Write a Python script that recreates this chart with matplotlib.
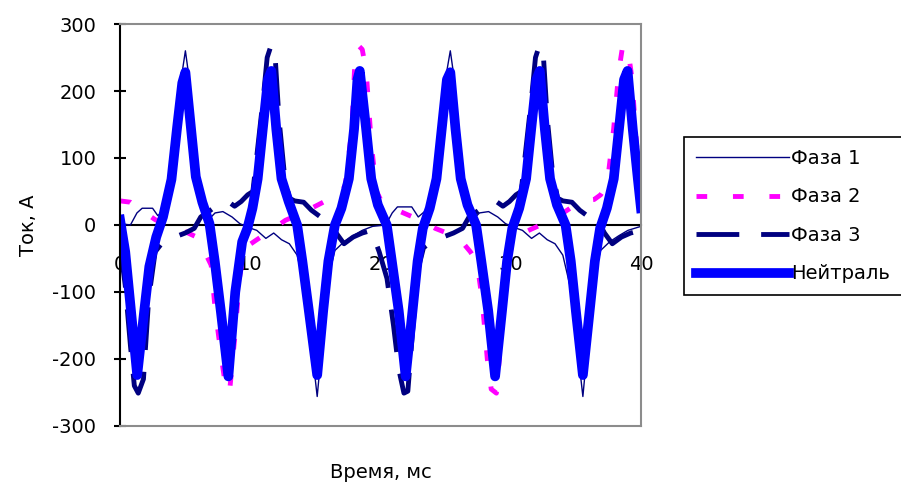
import matplotlib
matplotlib.use("Agg")
import matplotlib.pyplot as plt

t_f1 = [0.0, 0.8, 1.3, 1.7, 2.5, 2.9, 3.4, 3.9, 4.4, 4.75, 5.02, 5.3, 5.7, 6.1, 6.5,
        6.9, 7.3, 7.9, 8.6, 9.2, 9.9, 10.5, 11.2, 11.8, 12.4, 13.0, 13.6, 14.2, 14.7, 15.14,
        15.6, 16.1, 16.5, 17.2, 17.9, 18.6, 19.4, 20.4, 20.9, 21.3, 22.4, 22.9, 23.5, 24.0, 24.6,
        25.05, 25.36, 25.65, 26.0, 26.4, 26.8, 27.2, 27.6, 28.3, 29.0, 29.6, 30.3, 30.9, 31.6, 32.2,
        32.8, 33.4, 34.0, 34.6, 35.1, 35.54, 36.0, 36.5, 36.9, 37.6, 38.3, 39.0, 40.0]
i_f1 = [2, 0, 18, 25, 25, 14, 22, 60, 150, 225, 260, 220, 140, 70, 30,
        10, 18, 20, 12, 2, -4, -8, -20, -12, -22, -28, -45, -95, -180, -256,
        -160, -70, -38, -25, -16, -8, -2, 0, 18, 27, 27, 12, 22, 60, 150,
        225, 260, 220, 140, 70, 30, 10, 18, 20, 12, 2, -4, -8, -20, -12,
        -22, -28, -45, -95, -180, -256, -160, -70, -38, -25, -16, -8, -2]

t_f2 = [0.0, 0.8, 1.5, 2.7, 3.8, 5.0, 6.0, 6.5, 7.0, 7.3, 7.8, 8.1, 8.4, 8.8, 9.2,
        9.6, 10.5, 11.6, 12.7, 14.0, 15.2, 16.2, 16.9, 17.3, 17.8, 18.0, 18.3, 18.6, 18.9, 19.3,
        19.7, 20.0, 20.9, 21.4, 23.2, 24.2, 26.0, 26.9, 27.4, 27.8, 28.2, 28.5, 28.9, 29.3, 29.7,
        30.2, 31.6, 33.1, 33.8, 35.4, 36.4, 36.9, 37.4, 37.9, 38.3, 38.6, 39.0, 39.3, 39.7, 40.0]
i_f2 = [36, 34, 24, 8, -2, -10, -19, -40, -60, -125, -200, -240, -251, -170, -75,
        -34, -22, -8, 7, 18, 30, 40, 45, 60, 143, 230, 268, 262, 230, 120,
        50, 38, 36, 21, 6, -5, -19, -40, -55, -110, -200, -245, -251, -160, -65,
        -19, -6, 7, 15, 36, 38, 45, 60, 143, 230, 268, 262, 220, 110, 55]

t_f3 = [0.0, 0.4, 0.8, 1.1, 1.4, 1.8, 2.2, 2.7, 3.3, 4.2, 5.0, 5.7, 6.2, 6.8, 7.5,
        8.3, 8.8, 9.3, 9.8, 10.2, 10.6, 11.0, 11.3, 11.6, 11.9, 12.2, 12.6, 13.0, 13.4, 14.1,
        14.7, 15.4, 16.1, 16.6, 17.2, 17.9, 18.6, 19.3, 19.9, 20.5, 21.0, 21.4, 21.8, 22.1, 22.5,
        22.9, 23.3, 23.9, 24.8, 25.6, 26.3, 26.8, 27.4, 28.1, 28.9, 29.4, 29.9, 30.4, 30.8, 31.2,
        31.6, 31.9, 32.2, 32.5, 32.8, 33.2, 33.6, 34.0, 34.7, 35.3, 36.0, 36.7, 37.2, 37.8, 38.5,
        39.2, 40.0]
i_f3 = [-30, -90, -180, -240, -251, -230, -110, -40, -25, -18, -12, -5, 12, 20, 30,
        35, 28, 35, 45, 50, 120, 190, 250, 268, 255, 160, 80, 40, 36, 34,
        22, 12, 6, -12, -28, -18, -12, -8, -40, -80, -150, -215, -251, -248, -150,
        -65, -34, -25, -18, -12, -5, 12, 20, 30, 35, 28, 35, 45, 50, 120,
        190, 250, 268, 255, 160, 80, 40, 36, 34, 22, 12, 6, -12, -28, -18,
        -12, -8]

t_n = [0.0, 0.4, 0.85, 1.32, 1.85, 2.25, 2.78, 3.3, 3.95, 4.38, 4.78, 5.02,
       5.42, 5.82, 6.32, 6.87, 7.28, 7.75, 8.32,
       8.85, 9.38, 9.78, 10.17, 10.57, 10.96, 11.36, 11.62,
       12.0, 12.4, 12.95, 13.6, 14.0, 14.5, 15.14,
       15.6, 16.0, 16.5, 17.0, 17.57, 17.97, 18.23, 18.41,
       18.9, 19.29, 19.8, 20.48, 20.87, 21.4, 21.93,
       22.46, 22.85, 23.25, 23.78, 24.3, 24.7, 25.1, 25.36,
       25.76, 26.16, 26.68, 27.34, 27.74, 28.27, 28.8,
       29.33, 29.72, 30.12, 30.65, 31.18, 31.57, 31.97, 32.23,
       32.62, 33.02, 33.55, 34.21, 34.61, 35.0, 35.54,
       36.06, 36.46, 36.86, 37.38, 37.91, 38.31, 38.7, 38.97,
       39.37, 39.76, 40.0]
i_n = [8, -40, -130, -224, -130, -62, -18, 12, 68, 145, 212, 228,
       150, 72, 34, 2, -55, -130, -226,
       -100, -25, -5, 25, 69, 143, 217, 230,
       143, 69, 35, 0, -54, -128, -224,
       -128, -54, 0, 25, 69, 143, 217, 230,
       143, 69, 30, 0, -54, -128, -226,
       -128, -54, -5, 25, 69, 143, 217, 228,
       143, 69, 30, 0, -54, -128, -226,
       -128, -54, -5, 25, 69, 143, 217, 230,
       143, 69, 30, 0, -54, -128, -224,
       -128, -54, -5, 25, 69, 143, 217, 230,
       143, 69, 25]

x_ticks = [0, 10, 20, 30, 40]
y_ticks = [-300, -200, -100, 0, 100, 200, 300]


def draw():
    plt.rcParams['font.family'] = ['DejaVu Sans']
    plt.rcParams['axes.unicode_minus'] = False

    fig = plt.figure(figsize=(9.01, 4.86), dpi=100)
    ax = fig.add_axes([0.1332, 0.1235, 0.5782, 0.8271])

    ax.plot(t_f1, i_f1, color='#000080', lw=1.0, label='Фаза 1')
    ax.plot(t_f2, i_f2, color='#ff00ff', lw=3.5, dashes=(2.2, 5.3), label='Фаза 2')
    ax.plot(t_f3, i_f3, color='#000080', lw=3.5, dashes=(8.8, 4.5), label='Фаза 3')
    ax.plot(t_n, i_n, color='#0000ff', lw=7, label='Нейтраль')

    ax.set_xlim(0, 40)
    ax.set_ylim(-300, 300)
    ax.set_yticks(y_ticks)
    ax.set_xticks([])

    # рамка области построения
    for side in ['top', 'right', 'bottom']:
        ax.spines[side].set_color('#8c8c8c')
        ax.spines[side].set_linewidth(1.5)
    ax.spines['left'].set_color('black')
    ax.spines['left'].set_linewidth(1.5)
    ax.tick_params(axis='y', direction='inout', length=8, width=1.5, pad=13, labelsize=14)

    # ось X проходит через ноль
    sec = ax.secondary_xaxis(0, transform=ax.transData)
    sec.set_xticks(x_ticks)
    sec.spines['bottom'].set_color('black')
    sec.spines['bottom'].set_linewidth(1.5)
    sec.tick_params(length=0, pad=21.5, labelsize=14)

    ax.set_ylabel('Ток, А', fontsize=14)
    ax.yaxis.set_label_coords(-0.158, 0.5)
    ax.set_xlabel('Время, мс', fontsize=14)
    ax.xaxis.set_label_coords(0.5, -0.092)

    leg = ax.legend(loc='upper left', bbox_to_anchor=(684 / 901, 1 - 137 / 486),
                    bbox_transform=fig.transFigure, fontsize=14, frameon=True,
                    fancybox=False, edgecolor='black', framealpha=1,
                    handlelength=4.8, handletextpad=0.1, labelspacing=1.0,
                    borderpad=0.62, borderaxespad=0)
    leg.get_frame().set_linewidth(1.2)

    fig.savefig('out.png', dpi=100)


if __name__ == '__main__':
    draw()
